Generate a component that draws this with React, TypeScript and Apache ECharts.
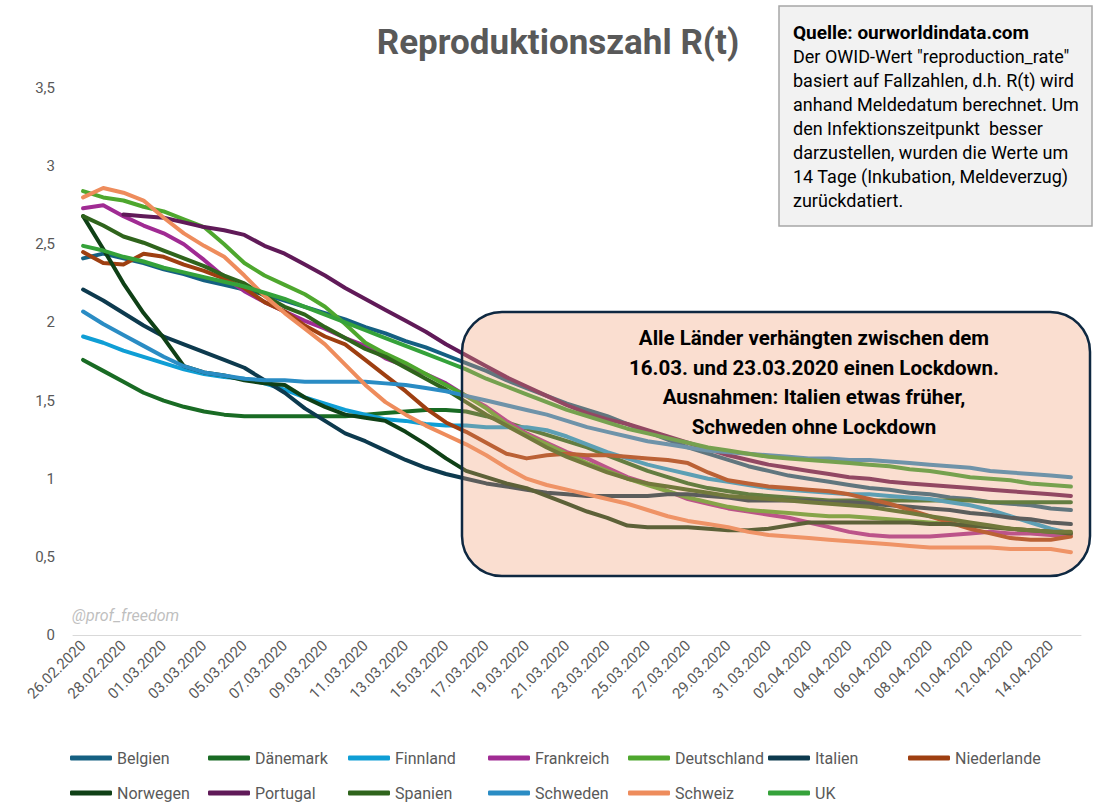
import React, { useEffect, useRef } from "react";
import * as echarts from "echarts";

const dates = [
  "26.02.2020","27.02.2020","28.02.2020","29.02.2020","01.03.2020","02.03.2020","03.03.2020","04.03.2020","05.03.2020","06.03.2020",
  "07.03.2020","08.03.2020","09.03.2020","10.03.2020","11.03.2020","12.03.2020","13.03.2020","14.03.2020","15.03.2020","16.03.2020",
  "17.03.2020","18.03.2020","19.03.2020","20.03.2020","21.03.2020","22.03.2020","23.03.2020","24.03.2020","25.03.2020","26.03.2020",
  "27.03.2020","28.03.2020","29.03.2020","30.03.2020","31.03.2020","01.04.2020","02.04.2020","03.04.2020","04.04.2020","05.04.2020",
  "06.04.2020","07.04.2020","08.04.2020","09.04.2020","10.04.2020","11.04.2020","12.04.2020","13.04.2020","14.04.2020","15.04.2020",
];

const yTicks = [0, 0.5, 1, 1.5, 2, 2.5, 3, 3.5];

const belgien = [2.41,2.44,2.41,2.38,2.34,2.31,2.27,2.24,2.21,2.18,2.14,2.10,2.06,2.02,1.97,1.93,1.88,1.84,1.79,1.74,1.69,1.63,1.58,1.53,1.48,1.44,1.40,1.35,1.30,1.25,1.20,1.16,1.12,1.08,1.05,1.02,1.00,0.98,0.96,0.94,0.93,0.91,0.90,0.88,0.87,0.85,0.84,0.83,0.81,0.80];
const daenemark = [1.76,1.69,1.62,1.55,1.50,1.46,1.43,1.41,1.40,1.40,1.40,1.40,1.40,1.40,1.41,1.42,1.43,1.44,1.44,1.43,1.40,1.36,1.32,1.28,1.24,1.20,1.15,1.10,1.05,1.01,0.97,0.94,0.92,0.90,0.89,0.88,0.87,0.86,0.86,0.86,0.86,0.86,0.86,0.86,0.86,0.85,0.85,0.85,0.85,0.85];
const finnland = [1.91,1.87,1.82,1.78,1.74,1.70,1.67,1.65,1.64,1.61,1.57,1.52,1.48,1.44,1.41,1.38,1.37,1.35,1.34,1.34,1.33,1.33,1.33,1.31,1.27,1.22,1.17,1.13,1.09,1.06,1.03,1.00,0.98,0.96,0.94,0.93,0.92,0.91,0.90,0.90,0.89,0.88,0.87,0.85,0.83,0.80,0.76,0.72,0.68,0.65];
const frankreich = [2.73,2.75,2.68,2.62,2.57,2.50,2.40,2.29,2.20,2.13,2.07,2.01,1.96,1.90,1.85,1.77,1.72,1.67,1.61,1.53,1.46,1.37,1.29,1.23,1.17,1.13,1.07,1.01,0.97,0.92,0.87,0.84,0.81,0.79,0.77,0.75,0.72,0.69,0.66,0.64,0.63,0.63,0.63,0.64,0.65,0.66,0.65,0.65,0.64,0.64];
const deutschland = [2.84,2.80,2.78,2.74,2.71,2.66,2.61,2.50,2.38,2.30,2.24,2.18,2.10,1.99,1.87,1.80,1.74,1.67,1.60,1.53,1.45,1.35,1.28,1.22,1.16,1.10,1.05,1.00,0.96,0.92,0.88,0.85,0.82,0.80,0.79,0.78,0.77,0.76,0.76,0.75,0.74,0.73,0.72,0.71,0.70,0.69,0.68,0.67,0.66,0.65];
const italien = [2.21,2.14,2.06,1.98,1.91,1.86,1.81,1.76,1.71,1.63,1.55,1.45,1.37,1.29,1.24,1.18,1.12,1.07,1.03,1.00,0.97,0.95,0.93,0.91,0.90,0.89,0.89,0.89,0.89,0.90,0.90,0.89,0.88,0.86,0.86,0.86,0.86,0.85,0.85,0.84,0.83,0.82,0.81,0.80,0.78,0.77,0.75,0.74,0.72,0.71];
const niederlande = [2.45,2.38,2.37,2.44,2.42,2.37,2.33,2.28,2.22,2.13,2.07,1.98,1.91,1.86,1.76,1.66,1.56,1.45,1.36,1.30,1.23,1.16,1.13,1.15,1.16,1.15,1.15,1.14,1.13,1.12,1.10,1.04,0.99,0.97,0.95,0.94,0.93,0.92,0.90,0.87,0.84,0.80,0.76,0.72,0.68,0.65,0.62,0.61,0.61,0.63];
const norwegen = [2.68,2.47,2.25,2.06,1.90,1.72,1.68,1.66,1.63,1.61,1.60,1.52,1.46,1.41,1.39,1.37,1.30,1.22,1.13,1.05,1.01,0.97,0.94,0.89,0.84,0.79,0.75,0.70,0.69,0.69,0.69,0.68,0.67,0.67,0.68,0.70,0.72,0.72,0.72,0.72,0.72,0.72,0.71,0.71,0.70,0.69,0.68,0.67,0.66,0.65];
const portugal = [null,null,2.69,2.68,2.67,2.64,2.61,2.59,2.56,2.49,2.44,2.37,2.30,2.22,2.15,2.08,2.01,1.94,1.86,1.79,1.72,1.65,1.59,1.53,1.47,1.42,1.38,1.35,1.31,1.27,1.23,1.19,1.15,1.12,1.09,1.07,1.05,1.03,1.01,1.00,0.98,0.97,0.96,0.95,0.94,0.93,0.92,0.91,0.90,0.89];
const spanien = [2.68,2.62,2.55,2.51,2.46,2.41,2.36,2.30,2.25,2.17,2.10,2.05,1.97,1.90,1.83,1.78,1.71,1.64,1.57,1.49,1.41,1.34,1.27,1.20,1.14,1.09,1.04,1.00,0.97,0.95,0.93,0.91,0.89,0.88,0.87,0.86,0.85,0.84,0.83,0.82,0.80,0.78,0.76,0.74,0.72,0.70,0.68,0.67,0.66,0.66];
const schweden = [2.07,1.99,1.92,1.85,1.78,1.72,1.68,1.66,1.64,1.63,1.63,1.62,1.62,1.62,1.62,1.61,1.60,1.58,1.56,1.53,1.50,1.47,1.44,1.41,1.37,1.33,1.30,1.27,1.24,1.22,1.20,1.18,1.17,1.16,1.15,1.14,1.13,1.13,1.12,1.12,1.11,1.10,1.09,1.08,1.07,1.05,1.04,1.03,1.02,1.01];
const schweiz = [2.80,2.86,2.83,2.78,2.67,2.57,2.49,2.42,2.30,2.17,2.06,1.96,1.86,1.73,1.60,1.49,1.41,1.34,1.28,1.22,1.15,1.07,1.00,0.96,0.93,0.90,0.87,0.84,0.80,0.76,0.73,0.71,0.69,0.66,0.64,0.63,0.62,0.61,0.60,0.59,0.58,0.57,0.56,0.56,0.56,0.56,0.55,0.55,0.55,0.53];
const uk = [2.49,2.46,2.42,2.39,2.35,2.32,2.29,2.26,2.23,2.19,2.15,2.10,2.05,2.00,1.95,1.90,1.85,1.80,1.75,1.70,1.64,1.59,1.54,1.49,1.44,1.40,1.36,1.32,1.29,1.26,1.23,1.20,1.18,1.16,1.14,1.13,1.12,1.11,1.10,1.09,1.08,1.06,1.05,1.03,1.01,1.00,0.99,0.97,0.96,0.95];

const countries = ["Belgien","Dänemark","Finnland","Frankreich","Deutschland","Italien","Niederlande","Norwegen","Portugal","Spanien","Schweden","Schweiz","UK"];
const values = [belgien, daenemark, finnland, frankreich, deutschland, italien, niederlande, norwegen, portugal, spanien, schweden, schweiz, uk];
const colors = ["#156082","#196B24","#0F9ED5","#A02B93","#4EA72E","#0D3A4E","#9E3F11","#0F4016","#601A58","#2F641C","#2A8CC4","#EE8C5C","#35A23A"];

const boxLines = [
  "Alle Länder verhängten zwischen dem",
  "16.03. und 23.03.2020 einen Lockdown.",
  "Ausnahmen: Italien etwas früher,",
  "Schweden ohne Lockdown",
];
const infoTitle = "Quelle: ourworldindata.com";
const infoLines = [
  "Der OWID-Wert \"reproduction_rate\"",
  "basiert auf Fallzahlen, d.h. R(t) wird",
  "anhand Meldedatum berechnet. Um",
  "den Infektionszeitpunkt  besser",
  "darzustellen, wurden die Werte um",
  "14 Tage (Inkubation, Meldeverzug)",
  "zurückdatiert.",
];

const FONT = "Roboto";
const legendCols = [70, 208, 348, 488, 628, 768, 908];
const legendRows = [750, 785];

export default function App() {
  const ref = useRef<HTMLDivElement>(null);
  useEffect(() => {
    if (!ref.current) return;
    const chart = echarts.init(ref.current, null, { renderer: "svg" });
    const legends = countries.map((name, i) => ({
      data: [name],
      left: legendCols[i % 7],
      top: legendRows[Math.floor(i / 7)],
      itemWidth: 42,
      itemHeight: 5,
      icon: "roundRect",
      padding: 0,
      selectedMode: false,
      textStyle: { fontSize: 16, color: "#595959", fontFamily: FONT },
    }));
    const series = countries.map((name, i) => ({
      name,
      type: "line",
      data: values[i],
      showSymbol: false,
      symbol: "none",
      color: colors[i],
      lineStyle: { width: 4, color: colors[i], cap: "round", join: "round" },
      z: 2 + i * 0.01,
    }));
    const graphic: any[] = [
      {
        type: "rect",
        z: 100,
        shape: { x: 462, y: 312, width: 628, height: 264, r: 40 },
        style: { fill: "rgba(241,161,121,0.35)", stroke: "#0E2841", lineWidth: 2.5 },
      },
      ...boxLines.map((t, i) => ({
        type: "text",
        z: 101,
        style: {
          text: t,
          x: 814,
          y: 338 + i * 29.5,
          textAlign: "center",
          textVerticalAlign: "middle",
          font: `bold 20.5px ${FONT}`,
          fill: "#000",
        },
      })),
      {
        type: "rect",
        z: 100,
        shape: { x: 779, y: 6, width: 313, height: 220 },
        style: { fill: "#F2F2F2", stroke: "#A6A6A6", lineWidth: 1.5 },
      },
      {
        type: "text",
        z: 101,
        style: { text: infoTitle, x: 793, y: 32, textVerticalAlign: "middle", font: `bold 19px ${FONT}`, fill: "#000" },
      },
      ...infoLines.map((t, i) => ({
        type: "text",
        z: 101,
        style: { text: t, x: 793, y: 56 + i * 24, textVerticalAlign: "middle", font: `18px ${FONT}`, fill: "#000" },
      })),
      {
        type: "text",
        z: 101,
        style: { text: "@prof_freedom", x: 72, y: 615, textVerticalAlign: "middle", font: `italic 16px ${FONT}`, fill: "#BFBFBF" },
      },
    ];
    chart.setOption({
      animation: false,
      backgroundColor: "#ffffff",
      title: {
        text: "Reproduktionszahl R(t)",
        left: 553,
        textAlign: "center",
        top: 20,
        textStyle: { fontSize: 35, fontWeight: "bold", color: "#595959", fontFamily: FONT },
      },
      grid: { left: 73, right: 21, top: 88, bottom: 173 },
      xAxis: {
        type: "category",
        data: dates,
        boundaryGap: true,
        axisLine: { lineStyle: { color: "#D9D9D9", width: 1 } },
        axisTick: { interval: 1, length: 5, lineStyle: { color: "#D9D9D9" } },
        axisLabel: { interval: 1, rotate: 45, fontSize: 15, color: "#595959", margin: 8, fontFamily: FONT },
      },
      yAxis: {
        type: "value",
        min: yTicks[0],
        max: yTicks[yTicks.length - 1],
        interval: 0.5,
        splitLine: { show: false },
        axisLine: { show: false },
        axisTick: { show: false },
        axisLabel: {
          formatter: (v: number) => String(v).replace(".", ","),
          fontSize: 15,
          color: "#595959",
          margin: 18,
          fontFamily: FONT,
        },
      },
      legend: legends,
      series,
      graphic,
    });
    return () => chart.dispose();
  }, []);
  return <div ref={ref} style={{ position: "absolute", left: 0, top: 0, width: 1102, height: 808 }} />;
}
